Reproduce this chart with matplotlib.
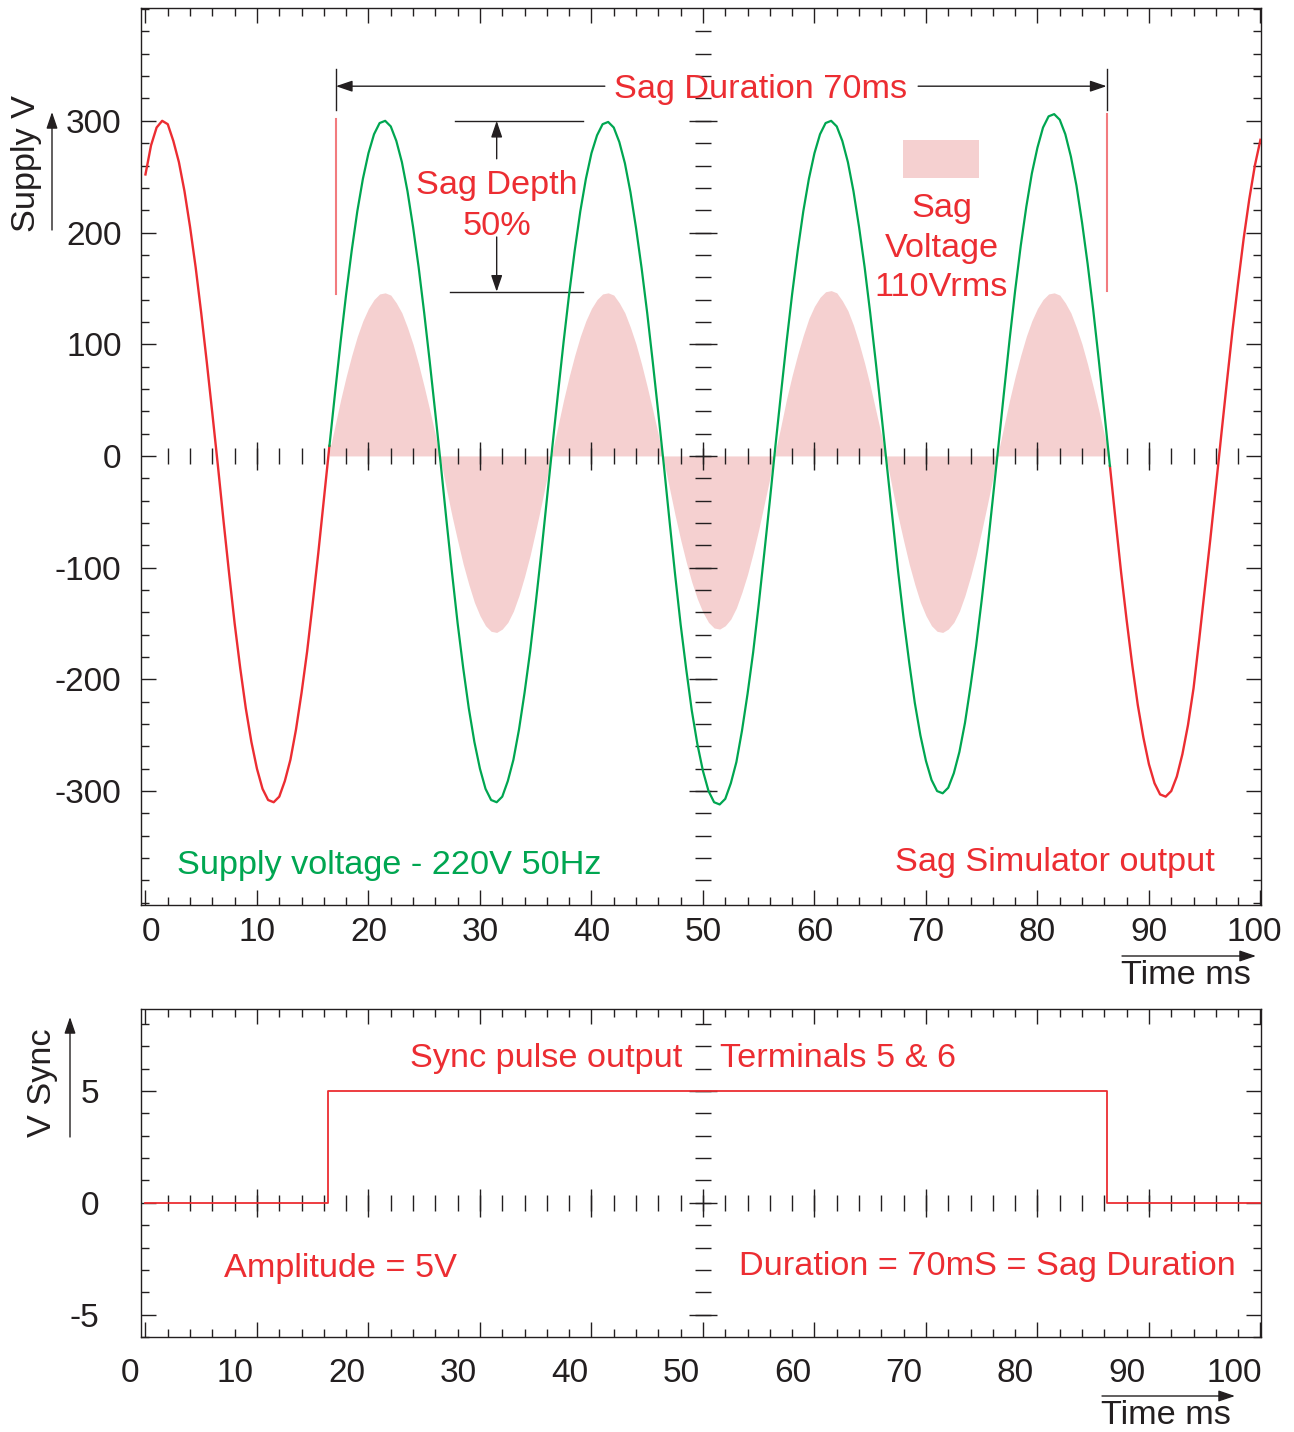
import numpy as np
import matplotlib
matplotlib.use('Agg')
from matplotlib import pyplot as plt
from matplotlib.patches import Rectangle
from matplotlib.transforms import ScaledTranslation

plt.rcParams['font.family'] = ['Liberation Sans', 'DejaVu Sans']
plt.rcParams['axes.unicode_minus'] = False

RED = '#EC2D32'
GREEN = '#00A651'
PINK = '#F5D0D0'
MARK_RED = '#F27B7F'
INK = '#231F20'
FS = 24.7

# supply voltage, one sample every 0.5 ms, 0 .. 100 ms
supply_t = np.arange(0, 100.25, 0.5)
supply_v = [
    252, 278, 294, 300, 297, 282, 263, 237, 205, 169, 128, 84, 38, -9, -58, -105, -150, -190, -226, -256,
    -280, -298, -308, -310, -305, -291, -272, -245, -212, -175, -132, -87, -39, 9, 56, 102, 145, 184, 219, 248,
    271, 288, 298, 300, 295, 282, 263, 237, 205, 169, 128, 84, 38, -9, -58, -105, -150, -190, -226, -256,
    -280, -298, -308, -310, -305, -291, -272, -245, -212, -175, -132, -87, -39, 9, 56, 102, 145, 184, 219, 248,
    271, 287, 297, 299, 294, 281, 262, 236, 204, 168, 128, 84, 38, -9, -58, -106, -151, -191, -228, -258,
    -282, -300, -310, -312, -307, -293, -274, -246, -213, -176, -133, -87, -40, 9, 56, 102, 145, 184, 219, 248,
    271, 288, 298, 300, 295, 282, 263, 237, 205, 169, 128, 84, 38, -9, -56, -103, -146, -185, -221, -250,
    -273, -290, -300, -302, -297, -284, -265, -239, -206, -170, -129, -85, -38, 9, 57, 104, 148, 188, 223, 253,
    276, 294, 304, 306, 301, 288, 268, 242, 209, 172, 131, 86, 39, -9, -57, -104, -147, -187, -223, -252,
    -276, -293, -303, -305, -300, -287, -267, -241, -208, -165, -120, -75, -28, 20, 67, 113, 155, 195, 230, 260,
    283,
]

# sag simulator output during the sag, 16.5 .. 86.5 ms
sag_t = np.arange(16.5, 86.75, 0.5)
sag_v = [
    4, 27, 50, 71, 90, 107, 121,
    132, 140, 145, 146, 144, 137, 128, 115, 100, 82, 62, 41, 19,
    -5, -30, -54, -76, -97, -115, -131, -143, -152, -157, -158, -155, -149, -139, -125, -108, -89, -67, -44, -20,
    4, 27, 50, 71, 90, 107, 121,
    132, 140, 145, 146, 144, 137, 128, 115, 100, 82, 62, 41, 19,
    -5, -29, -53, -75, -95, -113, -128, -140, -149, -154, -155, -152, -146, -136, -122, -106, -87, -66, -43, -20,
    4, 27, 51, 72, 91, 108, 123,
    134, 142, 147, 148, 146, 139, 130, 117, 101, 83, 63, 41, 19,
    -5, -30, -54, -76, -97, -115, -131, -143, -152, -157, -158, -155, -149, -139, -125, -108, -89, -67, -44, -20,
    4, 27, 50, 71, 90, 107, 121,
    132, 140, 145, 146, 144, 137, 128, 115, 100, 82, 62, 41, 19, 0,
]

SAG_START = 16.5
SAG_END = 86.5

# sync pulse (steps)
sync_t = [0, 16.4, 86.2, 100]
sync_v = [0, 5, 0, 0]

x_major = np.arange(0, 101, 10)
x_minor = np.arange(0, 101, 2)
top_y_major = np.arange(-300, 301, 100)
top_y_minor = np.arange(-400, 401, 20)
bot_y_major = [-5, 0, 5]
bot_y_minor = np.arange(-6, 9, 1)

W, H = 1294, 1432


def px(x, y):
    return x / W, 1 - y / H


def style_axes(ax, ymaj, ymin):
    ax.set_xticks(x_major)
    ax.set_xticks(x_minor, minor=True)
    ax.set_yticks(ymaj)
    ax.set_yticks(ymin, minor=True)
    ax.tick_params(which='both', direction='in', top=True, right=True,
                   color=INK, width=1.0, labelsize=24, labelcolor=INK)
    ax.tick_params(which='major', length=11)
    ax.tick_params(which='minor', length=6)
    for s in ax.spines.values():
        s.set_color(INK)
        s.set_linewidth(1.0)


def shift_xlabels(ax, fig, dx_px):
    # move every x tick label sideways by dx_px[i] pixels
    for lab, dx in zip(ax.get_xticklabels(), dx_px):
        lab.set_transform(lab.get_transform() + ScaledTranslation(dx / 100, 0, fig.dpi_scale_trans))


def center_ticks(ax, x0, y0, ymaj, ymin):
    # tick crosses along the zero line and the 50 ms line
    xs_min = x_minor[1:-1]
    xs_maj = x_major[1:-1]
    ax.plot(xs_min, np.full(len(xs_min), y0), ls='none', marker='|', ms=11, mew=1.0, color=INK, zorder=2)
    ax.plot(xs_maj, np.full(len(xs_maj), y0), ls='none', marker='|', ms=20, mew=1.0, color=INK, zorder=2)
    ax.plot(np.full(len(ymin), x0), ymin, ls='none', marker='_', ms=11, mew=1.0, color=INK, zorder=2)
    ax.plot(np.full(len(ymaj), x0), ymaj, ls='none', marker='_', ms=20, mew=1.0, color=INK, zorder=2)


arrow = dict(arrowstyle='-|>,head_length=0.5,head_width=0.17', color=INK, lw=1.0,
             shrinkA=0, shrinkB=0, mutation_scale=20)

fig = plt.figure(figsize=(W / 100, H / 100), dpi=100)
ax1 = fig.add_axes([141 / W, 1 - 905 / H, 1120 / W, 897 / H])
ax2 = fig.add_axes([141 / W, 1 - 1337 / H, 1120 / W, 328 / H])

# ---------------- top chart ----------------
t = supply_t
v = np.array(supply_v)
pre = t <= SAG_START
mid = (t >= SAG_START) & (t <= SAG_END)
post = t >= SAG_END

ax1.fill_between(sag_t, sag_v, 0, color=PINK, lw=0, zorder=1)
center_ticks(ax1, 50, 0, top_y_major, top_y_minor[1:-1])
ax1.plot(t[pre], v[pre], color=RED, lw=1.7, zorder=3)
ax1.plot(t[post], v[post], color=RED, lw=1.7, zorder=3)
ax1.plot(t[mid], v[mid], color=GREEN, lw=1.6, zorder=3)

ax1.set_xlim(-0.4, 100.05)
ax1.set_ylim(-402, 401)
style_axes(ax1, top_y_major, top_y_minor)
ax1.tick_params(axis='x', pad=9)
ax1.tick_params(axis='y', pad=14)
shift_xlabels(ax1, fig, [6, 0, 0, 0, 0, 0, 0, 0, 0, 0, -6])

# sag duration markers
for xm in [17.08, 86.2]:
    ax1.plot([xm, xm], [346, 310], color=INK, lw=1.0)
ax1.plot([17.08, 17.08], [302, 145], color=MARK_RED, lw=1.5)
ax1.plot([86.2, 86.2], [306, 148], color=MARK_RED, lw=1.5)
ax1.annotate('', xy=(17.08, 331), xytext=(41.2, 331), arrowprops=arrow)
ax1.annotate('', xy=(86.2, 331), xytext=(69.3, 331), arrowprops=arrow)
ax1.text(55.2, 328, 'Sag Duration 70ms', color=RED, fontsize=FS, ha='center', va='center')

# sag depth
ax1.plot([27.8, 39.2], [300, 300], color=INK, lw=1.0)
ax1.plot([27.3, 39.2], [147, 147], color=INK, lw=1.0)
ax1.annotate('', xy=(31.5, 300), xytext=(31.5, 266), arrowprops=arrow)
ax1.annotate('', xy=(31.5, 147), xytext=(31.5, 196), arrowprops=arrow)
ax1.text(31.5, 224, 'Sag Depth\n50%', color=RED, fontsize=FS, ha='center', va='center',
         linespacing=1.42)

# sag voltage legend
ax1.add_patch(Rectangle((67.9, 249), 6.9, 34, color=PINK, lw=0))
ax1.text(71.4, 186, 'Sag\nVoltage\n110Vrms', color=RED, fontsize=FS, ha='center', va='center',
         linespacing=1.36)

ax1.text(2.8, -367, 'Supply voltage - 220V 50Hz', color=GREEN, fontsize=FS, ha='left', va='center')
ax1.text(95.9, -364, 'Sag Simulator output', color=RED, fontsize=FS, ha='right', va='center')

# ---------------- bottom chart ----------------
center_ticks(ax2, 50, 0, bot_y_major, np.arange(-5, 9, 1))
ax2.plot(sync_t, sync_v, drawstyle='steps-post', color=RED, lw=1.3, zorder=3)
ax2.set_xlim(-0.4, 100.05)
ax2.set_ylim(-6.0, 8.66)
style_axes(ax2, bot_y_major, bot_y_minor)
ax2.tick_params(axis='x', pad=15)
ax2.tick_params(axis='y', pad=30)
shift_xlabels(ax2, fig, [-15, -22, -22, -22, -22, -22, -22, -22, -22, -22, -26])

ax2.text(48.1, 6.45, 'Sync pulse output', color=RED, fontsize=FS, ha='right', va='center')
ax2.text(51.5, 6.45, 'Terminals 5 & 6', color=RED, fontsize=FS, ha='left', va='center')
ax2.text(7.0, -2.95, 'Amplitude = 5V', color=RED, fontsize=FS, ha='left', va='center')
ax2.text(53.2, -2.85, 'Duration = 70mS = Sag Duration', color=RED, fontsize=FS, ha='left', va='center')

# ---------------- axis names with arrows ----------------
fig.text(*px(26, 163), 'Supply V', rotation=90, ha='center', va='center', fontsize=FS, color=INK)
ax1.annotate('', xy=px(52, 112), xytext=px(52, 230), xycoords='figure fraction',
             textcoords='figure fraction', arrowprops=arrow, annotation_clip=False)
fig.text(*px(42, 1083), 'V Sync', rotation=90, ha='center', va='center', fontsize=FS, color=INK)
ax2.annotate('', xy=px(70, 1017), xytext=px(70, 1137), xycoords='figure fraction',
             textcoords='figure fraction', arrowprops=arrow, annotation_clip=False)

fig.text(*px(1186, 975), 'Time ms', ha='center', va='center', fontsize=FS, color=INK)
ax1.annotate('', xy=px(1256, 956), xytext=px(1122, 956), xycoords='figure fraction',
             textcoords='figure fraction', arrowprops=arrow, annotation_clip=False)
fig.text(*px(1166, 1415), 'Time ms', ha='center', va='center', fontsize=FS, color=INK)
ax2.annotate('', xy=px(1235, 1396), xytext=px(1102, 1396), xycoords='figure fraction',
             textcoords='figure fraction', arrowprops=arrow, annotation_clip=False)

fig.savefig('out.png', dpi=100)
